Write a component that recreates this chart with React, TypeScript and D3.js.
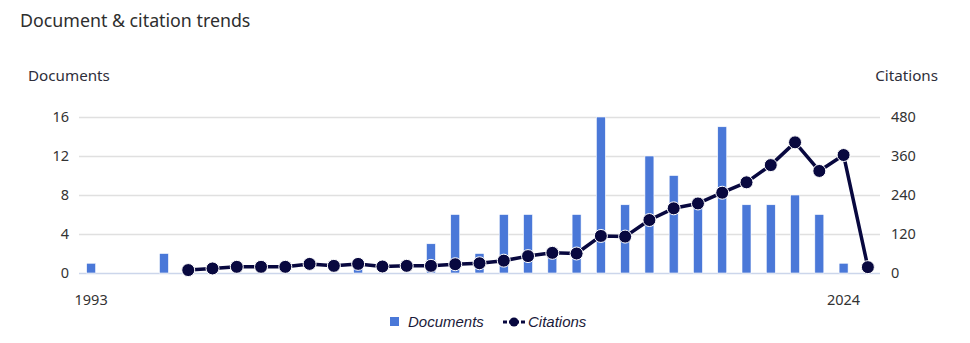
import React from "react";
import * as d3 from "d3";

const years: number[] = d3.range(1993, 2026);
const documents: (number | null)[] = [
  1, 0, 0, 2, 0, 0, 0, 0, 0, 0, 0, 1, 0, 0, 3, 6, 2, 6, 6, 2, 6, 16, 7, 12, 10, 7, 15, 7, 7, 8, 6, 1, null,
];
const citations: (number | null)[] = [
  null, null, null, null, 9, 14, 19, 19, 19, 28, 22, 28, 20, 22, 22, 27, 30, 38, 52, 62, 60, 114, 112, 163, 199, 214, 247, 279, 332, 402, 314, 363, 18,
];
const leftTicks = [0, 4, 8, 12, 16];
const rightTicks = [0, 120, 240, 360, 480];
const xLabels = [1993, 2024];

const W = 970;
const H = 343;
const M = { left: 79, right: 90, top: 117, bottom: 70 };
const FONT = "'Noto Sans', sans-serif";
const BAR = "#4a78d8";
const LINE = "#08083f";

export default function App() {
  const x = d3
    .scaleBand<number>()
    .domain(years)
    .range([M.left, W - M.right])
    .padding(0);
  const yL = d3.scaleLinear().domain([0, 16]).range([H - M.bottom, M.top]);
  const yR = d3.scaleLinear().domain([0, 480]).range([H - M.bottom, M.top]);
  const cx = (yr: number) => (x(yr) as number) + x.bandwidth() / 2;
  const bw = 9;

  const pts = years
    .map((yr, i) => ({ yr, v: citations[i] }))
    .filter((d) => d.v !== null) as { yr: number; v: number }[];
  const line = d3
    .line<{ yr: number; v: number }>()
    .x((d) => cx(d.yr))
    .y((d) => yR(d.v));

  return (
    <svg
      width={W}
      height={H}
      style={{ position: "absolute", left: 0, top: 0, background: "#fff" }}
      fontFamily={FONT}
    >
      <text x={20} y={27} fontSize={17.8} fill="#2e2e2e">
        Document &amp; citation trends
      </text>
      <text x={28} y={81} fontSize={15.2} fill="#2e2e3a">
        Documents
      </text>
      <text x={938} y={81} fontSize={15.2} fill="#2e2e3a" textAnchor="end">
        Citations
      </text>

      {leftTicks.map((t) => (
        <g key={"g" + t}>
          <line
            x1={M.left}
            x2={W - M.right}
            y1={yL(t) + 0.5}
            y2={yL(t) + 0.5}
            stroke={t === 0 ? "#ccd6eb" : "#e0e0e0"}
            strokeWidth={1.5}
          />
          <text
            x={69}
            y={yL(t) + 5}
            fontSize={14.5}
            fill="#333"
            textAnchor="end"
          >
            {t}
          </text>
        </g>
      ))}
      {rightTicks.map((t) => (
        <text key={"r" + t} x={891} y={yR(t) + 5} fontSize={14.5} fill="#333">
          {t}
        </text>
      ))}
      {xLabels.map((yr) => (
        <text
          key={"x" + yr}
          x={cx(yr)}
          y={305}
          fontSize={14.5}
          fill="#333"
          textAnchor="middle"
        >
          {yr}
        </text>
      ))}

      {years.map((yr, i) => {
        const v = documents[i];
        if (!v) return null;
        return (
          <rect
            key={"b" + yr}
            x={cx(yr) - bw / 2}
            y={yL(v)}
            width={bw}
            height={yL(0) - yL(v)}
            fill={BAR}
            stroke="#fff"
            strokeWidth={0.6}
          />
        );
      })}

      <path d={line(pts) || ""} fill="none" stroke={LINE} strokeWidth={3.5} strokeLinejoin="round" />
      {pts.map((d) => (
        <circle
          key={"c" + d.yr}
          cx={cx(d.yr)}
          cy={yR(d.v)}
          r={6.5}
          fill={LINE}
          stroke="#fff"
          strokeWidth={1}
        />
      ))}

      <g fontFamily="'Liberation Sans', Arial, sans-serif" fontStyle="italic" fontSize={15}>
        <rect x={390} y={317} width={9} height={9} fill={BAR} />
        <text x={408} y={327} fill="#1a1a3a">
          Documents
        </text>
        <line x1={503} x2={525} y1={322} y2={322} stroke={LINE} strokeWidth={3} strokeDasharray="4 2" />
        <circle cx={514} cy={322} r={4.5} fill={LINE} />
        <text x={528} y={327} fill="#1a1a3a">
          Citations
        </text>
      </g>
    </svg>
  );
}
